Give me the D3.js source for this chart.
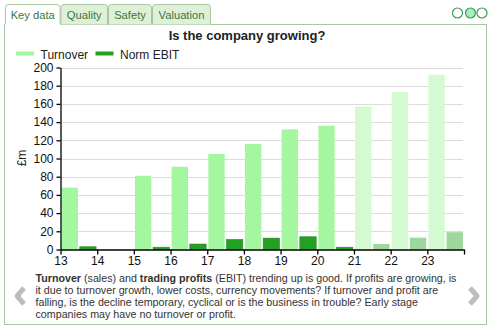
<!DOCTYPE html>
<html>
<head>
<meta charset="utf-8">
<script src="https://cdn.jsdelivr.net/npm/d3@7/dist/d3.min.js"></script>
<style>
  html, body { margin: 0; padding: 0; background: #fff; }
  svg { display: block; font-family: Arial, "Liberation Sans", sans-serif; }
</style>
</head>
<body>
<svg id="chart" width="497" height="331"></svg>
<script>
// Financial years (20xx), with forecasts from 21 onwards
const years = [13, 14, 15, 16, 17, 18, 19, 20, 21, 22, 23];
const forecast = [false, false, false, false, false, false, false, false, true, true, true];
const turnover = [68, null, 81, 91, 105, 116, 132, 136, 157, 173, 192];
const normEbit = [3, null, 2.5, 6, 11, 12.5, 14, 2.5, 6, 13, 19];
const yTicks = [0, 20, 40, 60, 80, 100, 120, 140, 160, 180, 200];
const tabs = ["Key data", "Quality", "Safety", "Valuation"];
const seriesNames = ["Turnover", "Norm EBIT"];

const colors = {
  turnover: "#a4f6a0", turnoverF: "#d4fad1",
  ebit: "#22a022", ebitF: "#9dd79b"
};

const svg = d3.select("#chart");

// Panel frame and tabs
svg.append("rect").attr("x", 4.5).attr("y", 24.5).attr("width", 482).attr("height", 300)
  .attr("fill", "#fff").attr("stroke", "#a9c6a3");

const tabEdges = [5, 60.5, 108, 152, 211];
tabs.forEach((t, i) => {
  const x0 = tabEdges[i], x1 = tabEdges[i + 1];
  const active = i === 0;
  svg.append("path")
    .attr("d", `M${x0 + 0.5},${active ? 25 : 24.5} V7.5 Q${x0 + 0.5},4.5 ${x0 + 3.5},4.5 H${x1 - 3.5} Q${x1 - 0.5},4.5 ${x1 - 0.5},7.5 V${active ? 25 : 24.5}`)
    .attr("fill", active ? "#fff" : "#dff0d8")
    .attr("stroke", "#a9c6a3");
  svg.append("text").attr("x", (x0 + x1) / 2).attr("y", 18.5)
    .attr("text-anchor", "middle").attr("font-size", 11.2)
    .attr("fill", "#3c763d").text(t);
});
svg.append("line").attr("x1", 5.5).attr("x2", 60).attr("y1", 24.5).attr("y2", 24.5)
  .attr("stroke", "#fff").attr("stroke-width", 1.2);

// Page indicator dots
[457.5, 470.5, 482].forEach((cx, i) => {
  svg.append("circle").attr("cx", cx).attr("cy", 13).attr("r", 5)
    .attr("fill", i === 1 ? "#a3efc0" : "#fff")
    .attr("stroke", "#3c9a55").attr("stroke-width", 1.2);
});

// Title
svg.append("text").attr("x", 247).attr("y", 40).attr("text-anchor", "middle")
  .attr("font-size", 13).attr("font-weight", "bold").attr("fill", "#222")
  .text("Is the company growing?");

// Legend
const legendX = [16, 95.5];
const legendFill = [colors.turnover, colors.ebit];
seriesNames.forEach((n, i) => {
  svg.append("rect").attr("x", legendX[i]).attr("y", 51.5).attr("width", 18).attr("height", 4)
    .attr("fill", legendFill[i]);
  svg.append("text").attr("x", legendX[i] + 24.5).attr("y", 58.5)
    .attr("font-size", 12).attr("fill", "#222").text(n);
});

// Scales
const x = d3.scaleLinear().domain([13, 24]).range([60.5, 464]);
const inner = d3.scaleBand().domain(["t", "e"])
  .range([0, x(14) - x(13)]).paddingInner(0.1).paddingOuter(0.06);
const y = d3.scaleLinear().domain([0, 200]).range([249.5, 67.5]);

// Grid
svg.append("g").selectAll("line").data(yTicks.slice(1)).join("line")
  .attr("x1", 60.5).attr("x2", 463)
  .attr("y1", d => Math.round(y(d)) + 0.5).attr("y2", d => Math.round(y(d)) + 0.5)
  .attr("stroke", "#dcdcdc");

// Bars
const data = years.map((yr, i) => ({ yr, f: forecast[i], t: turnover[i], e: normEbit[i] }));
svg.append("g").selectAll("rect").data(data.filter(d => d.t != null)).join("rect")
  .attr("x", d => x(d.yr) + inner("t"))
  .attr("width", inner.bandwidth())
  .attr("y", d => y(d.t))
  .attr("height", d => y(0) - y(d.t))
  .attr("fill", d => d.f ? colors.turnoverF : colors.turnover);
svg.append("g").selectAll("rect").data(data.filter(d => d.e != null)).join("rect")
  .attr("x", d => x(d.yr) + inner("e"))
  .attr("width", inner.bandwidth())
  .attr("y", d => y(d.e))
  .attr("height", d => y(0) - y(d.e))
  .attr("fill", d => d.f ? colors.ebitF : colors.ebit)
  .attr("stroke", d => d.f ? "none" : "#2a842a")
  .attr("stroke-width", 0.6);

// Axes
const yAxis = svg.append("g").attr("transform", "translate(60.5,0)")
  .call(d3.axisLeft(y).tickValues(yTicks).tickSize(4).tickSizeOuter(0).tickPadding(3));
const xAxis = svg.append("g").attr("transform", `translate(0,${y(0)})`)
  .call(d3.axisBottom(x).tickValues(years.concat([24]))
    .tickFormat(d => d === 24 ? "" : d).tickSize(5).tickSizeOuter(0).tickPadding(2));
[yAxis, xAxis].forEach(g => {
  g.selectAll("text").attr("font-size", 12).attr("fill", "#111")
    .attr("font-family", "Arial, 'Liberation Sans', sans-serif");
  g.selectAll("line,path").attr("stroke", "#000").attr("stroke-width", 1.3);
});

svg.append("text").attr("transform", "translate(25.5,158) rotate(-90)")
  .attr("text-anchor", "middle").attr("font-size", 12).attr("fill", "#222").text("£m");

// Description
const lines = [
  [["Turnover", true], [" (sales) and ", false], ["trading profits", true], [" (EBIT) trending up is good. If profits are growing, is", false]],
  [["it due to turnover growth, lower costs, currency movements? If turnover and profit are", false]],
  [["falling, is the decline temporary, cyclical or is the business in trouble? Early stage", false]],
  [["companies may have no turnover or profit.", false]]
];
lines.forEach((ln, i) => {
  const t = svg.append("text").attr("x", 35.5).attr("y", 282 + i * 12)
    .attr("font-size", 10.7).attr("fill", "#333");
  ln.forEach(([s, b]) => t.append("tspan").attr("font-weight", b ? "bold" : "normal").text(s));
});

// Navigation chevrons
svg.append("path").attr("d", "M24,288 L17,296 L24,304")
  .attr("fill", "none").attr("stroke", "#bdbdbd").attr("stroke-width", 5).attr("stroke-linejoin", "round");
svg.append("path").attr("d", "M470,288 L477,296 L470,304")
  .attr("fill", "none").attr("stroke", "#bdbdbd").attr("stroke-width", 5).attr("stroke-linejoin", "round");
</script>
</body>
</html>
